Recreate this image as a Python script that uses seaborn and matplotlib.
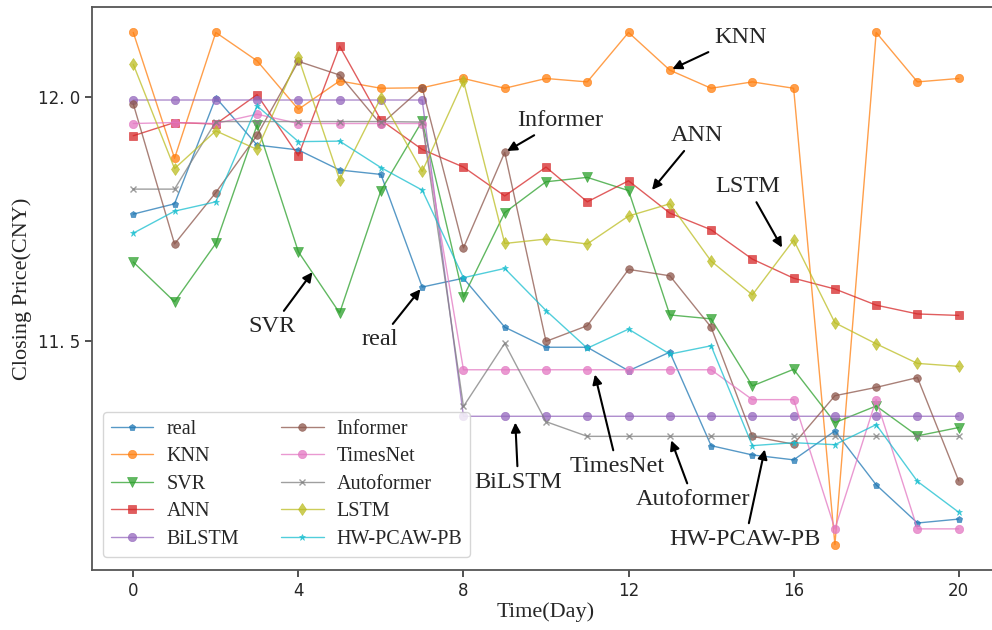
import matplotlib
matplotlib.use("Agg")
import matplotlib.pyplot as plt
import seaborn as sns
import pandas as pd
import numpy as np

days = list(range(21))
real = [11.760, 11.781, 11.998, 11.901, 11.891, 11.850, 11.841, 11.611, 11.629, 11.529, 11.488,
        11.488, 11.440, 11.478, 11.287, 11.268, 11.258, 11.317, 11.207, 11.129, 11.137]
knn = [12.131, 11.874, 12.131, 12.073, 11.974, 12.032, 12.017, 12.018, 12.037, 12.017, 12.037,
       12.030, 12.131, 12.054, 12.017, 12.030, 12.017, 11.085, 12.131, 12.030, 12.037]
svr = [11.662, 11.581, 11.700, 11.942, 11.683, 11.558, 11.808, 11.950, 11.591, 11.763, 11.826,
       11.835, 11.808, 11.554, 11.546, 11.409, 11.443, 11.334, 11.368, 11.307, 11.324]
ann = [11.920, 11.947, 11.944, 12.004, 11.879, 12.103, 11.952, 11.892, 11.856, 11.797, 11.856,
       11.785, 11.828, 11.762, 11.728, 11.668, 11.629, 11.607, 11.574, 11.556, 11.553]
bilstm = [11.993] * 8 + [11.347] * 13
informer = [11.985, 11.699, 11.804, 11.921, 12.072, 12.044, 11.943, 12.018, 11.691, 11.886, 11.500,
            11.532, 11.647, 11.634, 11.529, 11.306, 11.290, 11.389, 11.406, 11.426, 11.215]
timesnet = [11.945, 11.947, 11.945, 11.964, 11.945, 11.945, 11.945, 11.945, 11.442, 11.442, 11.442,
            11.442, 11.442, 11.442, 11.442, 11.381, 11.381, 11.117, 11.381, 11.117, 11.117]
autoformer = [11.811, 11.811, 11.949, 11.949, 11.949, 11.949, 11.949, 11.948, 11.367, 11.496, 11.336,
              11.306, 11.306, 11.306, 11.306, 11.306, 11.306, 11.306, 11.306, 11.306, 11.306]
lstm = [12.066, 11.853, 11.930, 11.892, 12.080, 11.830, 11.998, 11.847, 12.032, 11.700, 11.709,
        11.699, 11.756, 11.781, 11.664, 11.595, 11.707, 11.538, 11.495, 11.455, 11.449]
hw = [11.721, 11.766, 11.785, 11.981, 11.908, 11.909, 11.855, 11.809, 11.630, 11.649, 11.563,
      11.486, 11.525, 11.474, 11.491, 11.287, 11.293, 11.289, 11.330, 11.214, 11.151]

series_names = ["real", "KNN", "SVR", "ANN", "BiLSTM", "Informer", "TimesNet", "Autoformer", "LSTM", "HW-PCAW-PB"]
series_vals = [real, knn, svr, ann, bilstm, informer, timesnet, autoformer, lstm, hw]
markers = ["p", "o", "v", "s", "o", "o", "o", "x", "d", "*"]
msizes = [4.5, 6, 6.5, 6, 6, 5.5, 6, 4.5, 6.5, 4.5]

sns.set_style("white")
plt.rcParams["font.family"] = ["DejaVu Sans"]
serif = "Liberation Serif"

fig = plt.figure(figsize=(9.92, 6.30), dpi=100)
ax = fig.add_axes([92 / 992, (630 - 570) / 630, (1000 - 92) / 992, (570 - 7) / 630])
colors = sns.color_palette("tab10", 10)

for name, vals, mk, ms, c in zip(series_names, series_vals, markers, msizes, colors):
    df = pd.DataFrame({"day": days, "value": vals})
    sns.lineplot(data=df, x="day", y="value", ax=ax, color=c, marker=mk, markersize=ms,
                 markeredgecolor=c, markeredgewidth=1 if mk == "x" else 0.5, linewidth=1.0,
                 alpha=0.75, label=name)

ax.set_xlim(-1, 21)
ax.set_ylim(11.033, 12.183)
ax.set_xticks([0, 4, 8, 12, 16, 20])
ax.set_xticklabels(["0", "4", "8", "12", "16", "20"], fontsize=12)
ax.set_yticks([11.5, 12.0])
ax.set_yticklabels(["11. 5", "12. 0"], fontsize=12)
ax.tick_params(axis="both", direction="out", length=5, width=1.2, color="#333333", bottom=True, left=True)
for s in ax.spines.values():
    s.set_color("#555555")
    s.set_linewidth(1.3)

ax.set_xlabel("Time(Day)", fontfamily=serif, fontsize=16, labelpad=2)
ax.set_ylabel("Closing Price(CNY)", fontfamily=serif, fontsize=16, labelpad=4)

leg = ax.legend(ncol=2, loc="lower left", bbox_to_anchor=(0.012, 0.023), borderaxespad=0,
                prop={"family": serif, "size": 14.5},
                frameon=True, handlelength=2.1, handletextpad=0.65, columnspacing=2.1,
                labelspacing=0.42, borderpad=0.4)
leg.get_frame().set_edgecolor("#cccccc")

ann_kw = dict(fontfamily=serif, fontsize=17.5, ha="center", va="center",
              arrowprops=dict(arrowstyle="-|>", color="black", lw=1.5, mutation_scale=14))

def px(xp, yp):
    # convert reference pixel positions to data coordinates for annotation placement
    return ((xp - 133.3) / 41.25, 12.0 - (yp - 96.5) / 490.0)

notes = [
    ("KNN", px(740, 37), (13, knn[13])),
    ("Informer", px(560, 120), (9, informer[9])),
    ("ANN", px(697, 135), px(650, 192)),
    ("LSTM", px(747, 186), px(783, 250)),
    ("SVR", px(272, 327), px(314, 270)),
    ("real", px(380, 340), (7, real[7])),
    ("BiLSTM", px(518, 483), px(515, 420)),
    ("TimesNet", px(617, 467), px(594, 372)),
    ("Autoformer", px(693, 500), px(670, 438)),
    ("HW-PCAW-PB", px(745, 540), px(765, 447)),
]
for txt, xy_text, xy in notes:
    ax.annotate(txt, xy=xy, xytext=xy_text, **ann_kw)

fig.savefig("out.png", dpi=100)
